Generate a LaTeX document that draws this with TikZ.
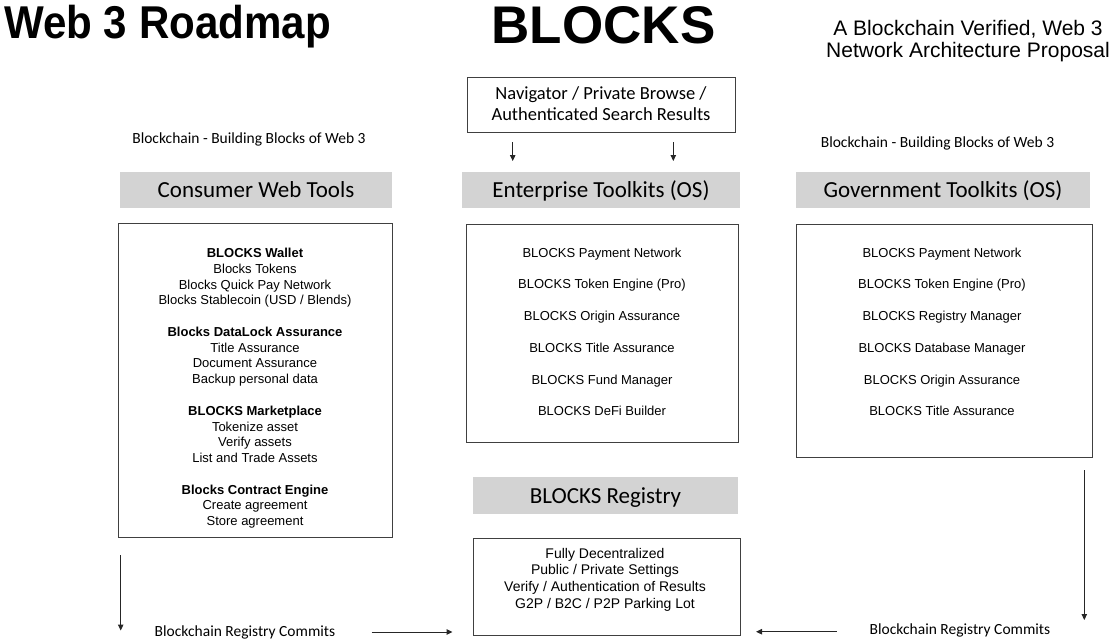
\documentclass[tikz,border=0pt]{standalone}
\usepackage{fontspec}
\usepackage{graphicx}
\setmainfont{Liberation Sans}
\newfontfamily\arfont{Liberation Sans}
\newfontfamily\calfont{Carlito}
\usetikzlibrary{arrows.meta}
\definecolor{barfill}{HTML}{D3D3D3}
\definecolor{framecol}{HTML}{404040}
\tikzset{
  bigtitle/.style={inner sep=0pt, font=\arfont\bfseries\fontsize{46}{50}\selectfont},
  subtitle/.style={inner sep=0pt, font=\arfont\fontsize{21}{23}\selectfont},
  caltext/.style={inner sep=0pt, font=\calfont\fontsize{15.5}{18}\selectfont},
  navtext/.style={inner sep=0pt, font=\calfont\fontsize{18.5}{21}\selectfont},
  bartext/.style={inner sep=0pt, font=\calfont\fontsize{23}{26}\selectfont},
  itemtext/.style={inner sep=0pt, font=\arfont\fontsize{13}{15}\selectfont},
  regtext/.style={inner sep=0pt, font=\arfont\fontsize{14}{16}\selectfont},
  graybar/.style={fill=barfill, draw=none, inner sep=0pt},
  framebox/.style={draw=framecol, line width=0.9pt, fill=none, inner sep=0pt},
  arr/.style={draw=black!85, line width=1pt, -{Triangle[length=6pt,width=5.5pt]}}
}
\begin{document}
\begin{tikzpicture}[x=1pt,y=-1pt]
\useasboundingbox (0,0) rectangle (1111,641);
% titles
\node[bigtitle, anchor=base west] (t1) at (4,38.3) {\scalebox{0.915}[1]{Web 3 Roadmap}};
\node[bigtitle, anchor=base, font=\arfont\bfseries\fontsize{53}{56}\selectfont] (t2) at (603.5,43) {BLOCKS};
\node[subtitle, anchor=base] (t3a) at (968,35) {A Blockchain Verified, Web 3};
\node[subtitle, anchor=base] (t3b) at (968,57) {Network Architecture Proposal};
% navigator
\node[framebox, minimum width=268pt, minimum height=55pt] (nav) at (601,104.5) {};
\node[navtext, anchor=base] (nav1) at (601,99) {Navigator / Private Browse /};
\node[navtext, anchor=base] (nav2) at (601,120) {Authenticated Search Results};
\coordinate (na1) at (512.7,142);
\coordinate (nb1) at (512.7,161);
\coordinate (na2) at (673.3,142);
\coordinate (nb2) at (673.3,161);
\draw[arr] (na1) -- (nb1);
\draw[arr] (na2) -- (nb2);
% building blocks labels
\node[caltext, anchor=base] (bbl) at (249,143.3) {Blockchain - Building Blocks of Web 3};
\node[caltext, anchor=base] (bbr) at (937.5,147.5) {Blockchain - Building Blocks of Web 3};
% gray bars
\node[graybar, minimum width=272pt, minimum height=36.5pt] (cbar) at (256,190) {};
\node[bartext, anchor=base] (ctxt) at (256,197.3) {Consumer Web Tools};
\node[graybar, minimum width=278pt, minimum height=36.5pt] (ebar) at (601,190) {};
\node[bartext, anchor=base] (etxt) at (601,197.3) {Enterprise Toolkits (OS)};
\node[graybar, minimum width=294pt, minimum height=36.5pt] (gbar) at (943,190) {};
\node[bartext, anchor=base] (gtxt) at (943,197.3) {Government Toolkits (OS)};
% consumer box
\node[framebox, minimum width=274pt, minimum height=314pt] (cbox) at (255,380) {};
\foreach \i/\t/\b in {0/{BLOCKS Wallet}/1, 1/{Blocks Tokens}/0, 2/{Blocks Quick Pay Network}/0, 3/{Blocks Stablecoin (USD / Blends)}/0,
  5/{Blocks DataLock Assurance}/1, 6/{Title Assurance}/0, 7/{Document Assurance}/0, 8/{Backup personal data}/0,
  10/{BLOCKS Marketplace}/1, 11/{Tokenize asset}/0, 12/{Verify assets}/0, 13/{List and Trade Assets}/0,
  15/{Blocks Contract Engine}/1, 16/{Create agreement}/0, 17/{Store agreement}/0}{
  \ifnum\b=1
    \node[itemtext, anchor=base, font=\arfont\bfseries\fontsize{13}{15}\selectfont] (c\i) at (255,257.5+15.78*\i) {\t};
  \else
    \node[itemtext, anchor=base] (c\i) at (255,257.5+15.78*\i) {\t};
  \fi
}
% enterprise box
\node[framebox, minimum width=272pt, minimum height=218pt] (ebox) at (602,333) {};
\foreach \i/\t in {0/{BLOCKS Payment Network}, 1/{BLOCKS Token Engine (Pro)}, 2/{BLOCKS Origin Assurance}, 3/{BLOCKS Title Assurance}, 4/{BLOCKS Fund Manager}, 5/{BLOCKS DeFi Builder}}{
  \node[itemtext, anchor=base] (e\i) at (602,257+31.75*\i) {\t};
}
% government box
\node[framebox, minimum width=296pt, minimum height=233pt] (gbox) at (944,340.5) {};
\foreach \i/\t in {0/{BLOCKS Payment Network}, 1/{BLOCKS Token Engine (Pro)}, 2/{BLOCKS Registry Manager}, 3/{BLOCKS Database Manager}, 4/{BLOCKS Origin Assurance}, 5/{BLOCKS Title Assurance}}{
  \node[itemtext, anchor=base] (g\i) at (942,257+31.75*\i) {\t};
}
% registry
\node[graybar, minimum width=265pt, minimum height=37pt] (rbar) at (605.5,495.5) {};
\node[bartext, anchor=base] (rtxt) at (605.5,503) {BLOCKS Registry};
\node[framebox, minimum width=267pt, minimum height=97pt] (rbox) at (606.5,586.5) {};
\foreach \i/\t in {0/{Fully Decentralized}, 1/{Public / Private Settings}, 2/{Verify / Authentication of Results}, 3/{G2P / B2C / P2P Parking Lot}}{
  \node[regtext, anchor=base] (r\i) at (605,558+16.8*\i) {\t};
}
% bottom commits
\node[caltext, anchor=base] (bcl) at (245,636.5) {Blockchain Registry Commits};
\node[caltext, anchor=base] (bcr) at (960,634.5) {Blockchain Registry Commits};
\coordinate (ld1) at (120.7,555);
\coordinate (ld2) at (120.7,630.5);
\coordinate (lr1) at (371.7,632);
\coordinate (lr2) at (452.5,632);
\coordinate (rl1) at (836.7,631.7);
\coordinate (rl2) at (756,631.7);
\coordinate (rd1) at (1084.3,470);
\coordinate (rd2) at (1084.3,620);
\draw[arr] (ld1) -- (ld2);
\draw[arr] (lr1) -- (lr2);
\draw[arr] (rl1) -- (rl2);
\draw[arr] (rd1) -- (rd2);
\end{tikzpicture}
\end{document}
